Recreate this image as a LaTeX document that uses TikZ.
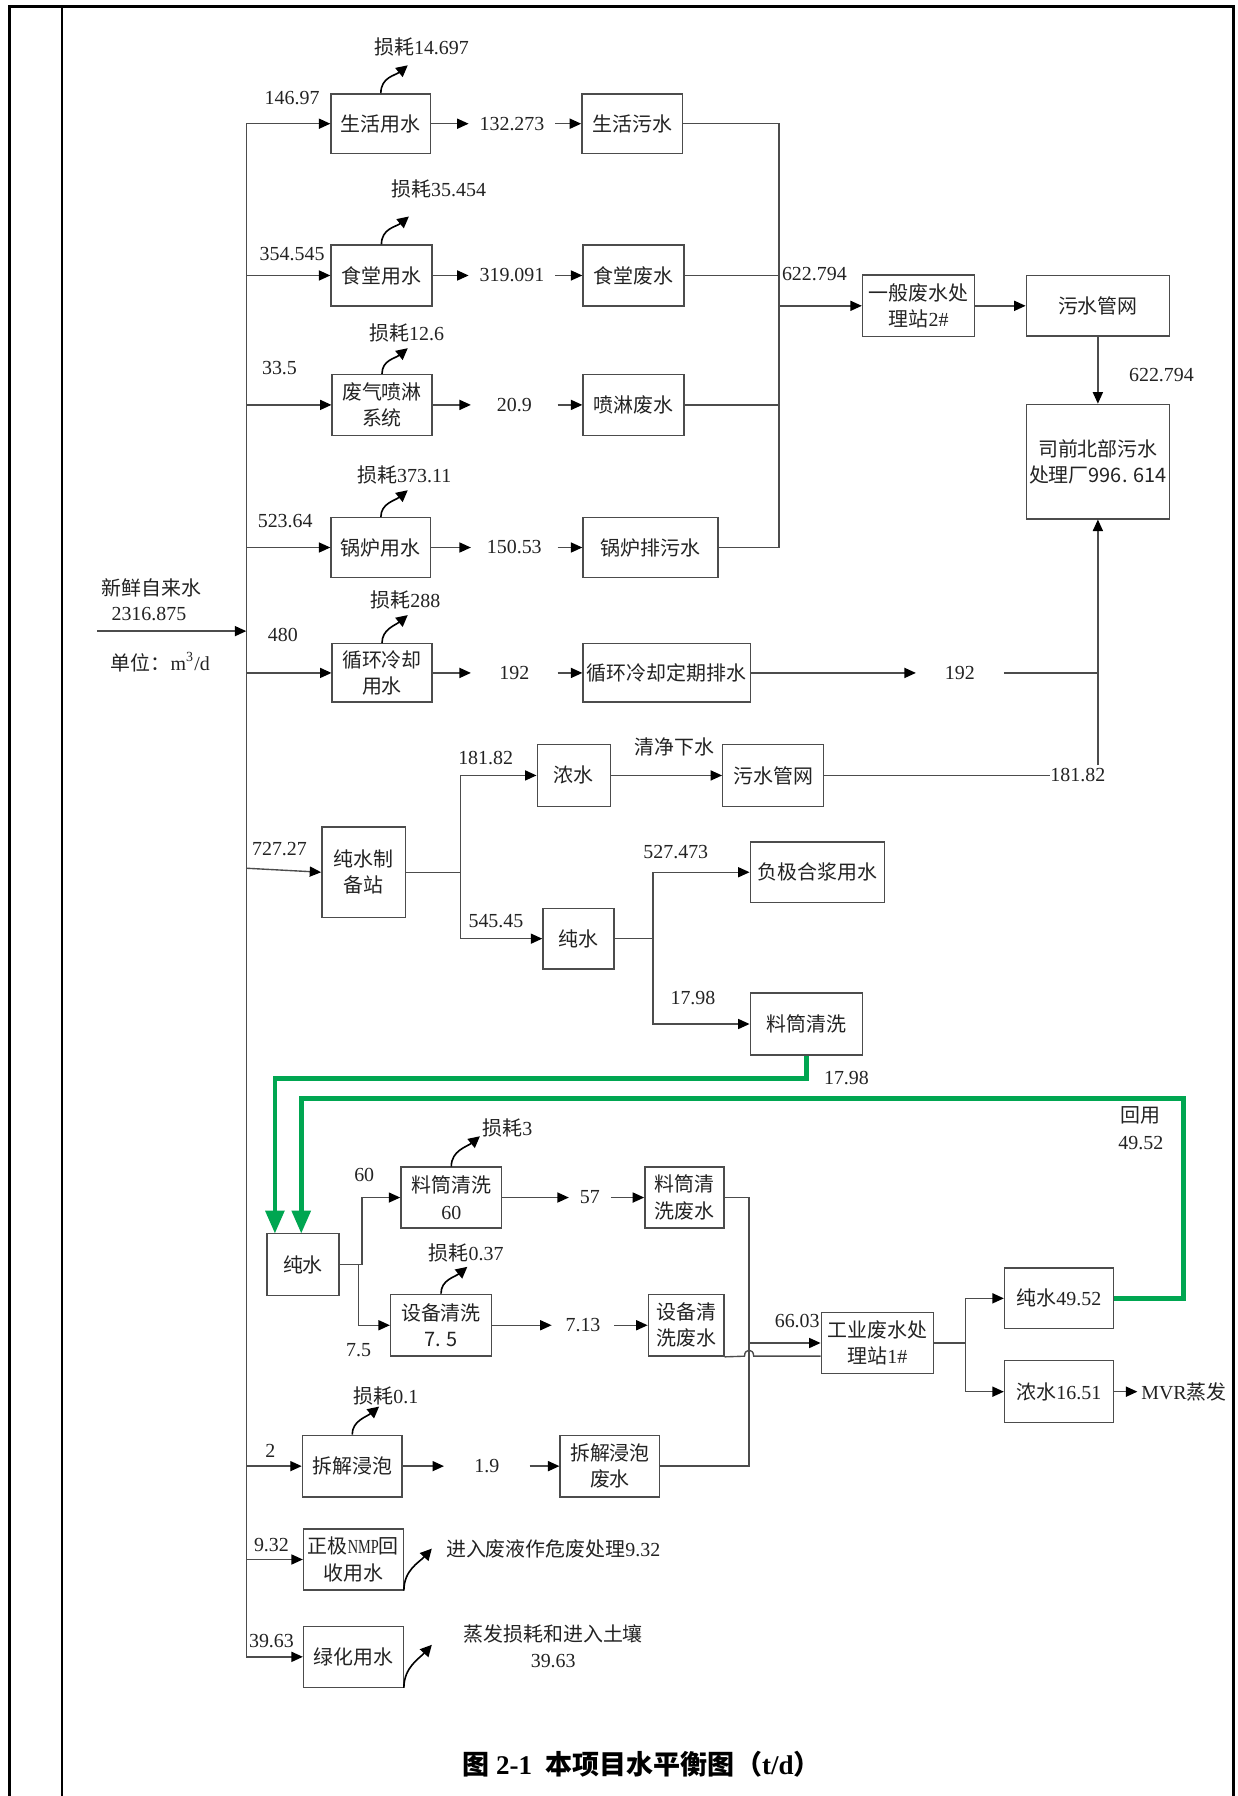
\documentclass[tikz,border=0pt]{standalone}
\usepackage{fontspec}
\setmainfont{Liberation Serif}
\newfontfamily\cjk{Noto Sans CJK SC}
\usetikzlibrary{arrows.meta}
\definecolor{gline}{RGB}{0,166,81}
\definecolor{ink}{RGB}{35,35,35}
\newcommand\zh[1]{{\cjk #1}}
\newcommand\fsz{\fontsize{8.7}{11.5}\selectfont}
\begin{document}
\begin{tikzpicture}[x=0.5pt,y=-0.5pt,
  cn/.style={draw=black!70,line width=0.6pt},
  ar/.style={cn,-{Triangle[length=5pt,width=4.4pt,color=black]}},
  bx/.style n args={2}{draw=black!70,line width=0.6pt,minimum width=#1*0.5pt,minimum height=#2*0.5pt,inner sep=0pt,align=center,font=\fsz,text=ink},
  nm/.style={inner sep=0pt,font=\fsz,text=ink,align=center},
  slot/.style={inner sep=0pt,minimum width=#1*0.5pt,font=\fsz,text=ink},
  gl/.style={draw=gline,line width=2pt,-{Triangle[length=10pt,width=8pt]}},
  sq/.style={draw=black,line width=0.7pt,-{Triangle[length=5pt,width=5pt]}}
]
\useasboundingbox (0,0) rectangle (1080,1568);
\fill[white] (0,0) rectangle (1080,1568);
% frame
\draw[line width=1.2pt] (8,1568) -- (8,6) -- (1077,6) -- (1077,1568);
\draw[line width=0.9pt] (54,6) -- (54,1568);

% ---------- rows 1-5 ----------
\node[bx={87}{52}] (n1) at (332.5,108) {\zh{生活用水}};
\node[slot=75] (l1) at (447,108) {132.273};
\node[bx={88}{52}] (w1) at (552,108) {\zh{生活污水}};
\node[nm] (s1t) at (368,41) {\zh{损耗}14.697};
\coordinate (s1) at (356,57);

\node[bx={88}{53}] (n2) at (333,240.5) {\zh{食堂用水}};
\node[slot=75] (l2) at (447,240.5) {319.091};
\node[bx={88}{53}] (w2) at (553,240.5) {\zh{食堂废水}};
\node[nm] (s2t) at (383,165) {\zh{损耗}35.454};
\coordinate (s2) at (357,189);

\node[bx={87}{53}] (n3) at (333.5,353.5) {\zh{废气喷淋}\\\zh{系统}};
\node[slot=75] (l3) at (449,353.5) {20.9};
\node[bx={88}{53}] (w3) at (553,353.5) {\zh{喷淋废水}};
\node[nm] (s3t) at (355,291) {\zh{损耗}12.6};
\coordinate (s3) at (356,304);

\node[bx={87}{52}] (n4) at (332.5,478) {\zh{锅炉用水}};
\node[slot=75] (l4) at (449,478) {150.53};
\node[bx={118}{52}] (w4) at (568,478) {\zh{锅炉排污水}};
\node[nm] (s4t) at (353,415) {\zh{损耗}373.11};
\coordinate (s4) at (356,428);

\node[bx={87}{51}] (n5) at (333.5,587.5) {\zh{循环冷却}\\\zh{用水}};
\node[slot=75] (l5) at (449,587.5) {192};
\node[bx={146}{51}] (w5) at (582,587.5) {\zh{循环冷却定期排水}};
\node[slot=76] (l5b) at (838,587.5) {192};
\node[nm] (s5t) at (354,524) {\zh{损耗}288};
\coordinate (s5) at (356,537);

\node[bx={98}{54}] (st2) at (802,267) {\zh{一般废水处}\\\zh{理站}2\#};
\node[bx={125}{53}] (p1) at (958.5,267) {\zh{污水管网}};
\node[bx={125}{100}] (pl) at (958.5,403) {\zh{司前北部污水}\\\zh{处理厂996. 614}};
\node[nm] at (711,239) {622.794};
\node[nm] at (1014,327) {622.794};

% inflow labels
\node[nm] at (255,86) {146.97};
\node[nm] at (255,222) {354.545};
\node[nm] at (244,321) {33.5};
\node[nm] at (249,455) {523.64};
\node[nm] at (247,554) {480};
\node[nm] at (244,741) {727.27};
\node[nm] at (236,1267) {2};
\node[nm] at (237,1349) {9.32};
\node[nm] at (237,1433) {39.63};

% fresh water
\node[nm] at (132,513) {\zh{新鲜自来水}};
\node[nm] at (130,536) {2316.875};
\node[nm] at (140,578) {\zh{单位：}m\textsuperscript{3}/d};

% ---------- row 6 ----------
\node[bx={73}{79}] (ro) at (317.5,761.5) {\zh{纯水制}\\\zh{备站}};
\node[bx={64}{54}] (cc) at (501,677) {\zh{浓水}};
\node[bx={88}{54}] (p2) at (675,677) {\zh{污水管网}};
\node[nm] (l6) at (941,677) {181.82};
\node[bx={62}{53}] (pu) at (505,819.5) {\zh{纯水}};
\node[bx={117}{53}] (ng) at (713.5,761.5) {\zh{负极合浆用水}};
\node[bx={98}{54}] (wa1) at (704,894) {\zh{料筒清洗}};
\node[nm] at (424,662) {181.82};
\node[nm] at (589,652) {\zh{清净下水}};
\node[nm] at (433,804) {545.45};
\node[nm] at (590,744) {527.473};
\node[nm] at (605,871) {17.98};
\node[nm] at (739,941) {17.98};
\node[nm] at (996,985) {\zh{回用}\\49.52};

% ---------- bottom ----------
\node[bx={63}{54}] (pw) at (264.5,1104) {\zh{纯水}};
\node[bx={88}{53}] (wa2) at (394,1045.5) {\zh{料筒清洗}\\60};
\node[slot=36] (l7) at (515,1045.5) {57};
\node[bx={69}{53}] (ww2) at (597.5,1045.5) {\zh{料筒清}\\\zh{洗废水}};
\node[bx={88}{54}] (eq) at (385,1157) {\zh{设备清洗}\\\zh{7. 5}};
\node[slot=54] (l8) at (509,1157) {7.13};
\node[bx={66}{54}] (weq) at (599,1157) {\zh{设备清}\\\zh{洗废水}};
\node[bx={98}{53}] (ind) at (766,1172.5) {\zh{工业废水处}\\\zh{理站}1\#};
\node[bx={95}{53}] (pw2) at (924.5,1133.5) {\zh{纯水}49.52};
\node[bx={95}{54}] (cw) at (924.5,1215) {\zh{浓水}16.51};
\node[nm,anchor=west,inner sep=1.5pt] (mvr) at (993,1215) {MVR\zh{蒸发}};
\node[bx={87}{54}] (dis) at (307.5,1280) {\zh{拆解浸泡}};
\node[slot=74] (l9) at (425,1280) {1.9};
\node[bx={87}{54}] (wdis) at (532.5,1280) {\zh{拆解浸泡}\\\zh{废水}};
\node[bx={87}{53}] (nmp) at (308.5,1361.5) {\zh{正极}\scalebox{0.72}[1]{NMP}\zh{回}\\\zh{收用水}};
\node[nm] at (483,1352) {\zh{进入废液作危废处理}9.32};
\node[bx={87}{53}] (gh) at (308.5,1446.5) {\zh{绿化用水}};
\node[nm] at (483,1437) {\zh{蒸发损耗和进入土壤}\\39.63};
\node[nm] at (318,1026) {60};
\node[nm] at (313,1179) {7.5};
\node[nm] at (696,1153) {66.03};
\node[nm] at (443,985) {\zh{损耗}3};
\node[nm] at (407,1094) {\zh{损耗}0.37};
\node[nm] at (337,1219) {\zh{损耗}0.1};
\coordinate (s6) at (419,992);
\coordinate (s7) at (408,1106);
\coordinate (s8) at (331,1228);
\coordinate (s9) at (377,1352);
\coordinate (s10) at (377,1436);

% title
\node[font=\fontsize{11.8}{14}\selectfont\bfseries] at (560,1540)
  {\zh{图} 2-1\hspace{6pt}\zh{本项目水平衡图（}t/d\zh{）}};

% ---------- connectors ----------
\coordinate (T) at (215,0);
\draw[cn] (n1.west -| T) -- (gh.west -| T);
\foreach \b in {n1,n2,n3,n4,n5,dis,nmp,gh}
  \draw[ar] (\b.west -| T) -- (\b.west);
\coordinate (t6) at (215,758);
\draw[ar] (t6) -- (ro.west);
\coordinate (fw) at (85,551);
\draw[ar] (fw) -- (fw -| T);

\draw[ar] (n1) -- (l1); \draw[ar] (l1) -- (w1);
\draw[ar] (n2) -- (l2); \draw[ar] (l2) -- (w2);
\draw[ar] (n3) -- (l3); \draw[ar] (l3) -- (w3);
\draw[ar] (n4) -- (l4); \draw[ar] (l4) -- (w4);
\draw[ar] (n5) -- (l5); \draw[ar] (l5) -- (w5);
\draw[ar] (w5) -- (l5b);
\draw[cn] (l5b.east) -- (pl.south |- l5b.east);

\coordinate (J) at (680,0);
\draw[cn] (w1.east) -| (J |- w4.east) -- (w4.east);
\draw[cn] (w2.east) -- (J |- w2.east);
\draw[cn] (w3.east) -- (J |- w3.east);
\draw[ar] (J |- st2.west) -- (st2.west);
\draw[ar] (st2) -- (p1);
\draw[ar] (p1) -- (pl);
\coordinate (v6) at (958.5,668);
\draw[ar] (v6) -- (pl.south);

% row 6
\coordinate (sp1) at (402,761.5);
\draw[cn] (ro.east) -- (sp1);
\draw[ar] (sp1) |- (cc.west);
\draw[ar] (sp1) |- (pu.west);
\draw[ar] (cc) -- (p2);
\draw[cn] (p2.east) -- (l6.west);
\coordinate (sp2) at (570,819.5);
\draw[cn] (pu.east) -- (sp2);
\draw[ar] (sp2) |- (ng.west);
\draw[ar] (sp2) |- (wa1.west);

% green recycle lines
\coordinate (ga) at (240,1077);
\coordinate (gb) at (263,1077);
\coordinate (g1) at (1033,959);
\draw[gl] (wa1.south) -- ++(0,20) -| (ga);
\draw[gl] (pw2.east) -| (g1) -| (gb);

% bottom
\coordinate (sp3) at (316,1104);
\coordinate (sp3b) at (313,1104);
\draw[cn] (pw.east) -- (sp3);
\draw[ar] (sp3) |- (wa2.west);
\draw[ar] (sp3b) |- (eq.west);
\draw[ar] (wa2) -- (l7); \draw[ar] (l7) -- (ww2);
\draw[ar] (eq) -- (l8); \draw[ar] (l8) -- (weq);
\draw[ar] (dis) -- (l9); \draw[ar] (l9) -- (wdis);
\coordinate (cx) at (654,0);
\draw[cn] (ww2.east) -| (cx |- wdis.east) -- (wdis.east);
\draw[ar] (cx |- ind.west) -- (ind.west);
\coordinate (hp1) at (650,1184);
\coordinate (hp2) at (658,1184);
\draw[cn] (weq.south east) -- (hp1) .. controls +(0,-7) and +(0,-7) .. (hp2) -- (ind.west |- hp2);
\coordinate (sp4) at (843,1172.5);
\draw[cn] (ind.east) -- (sp4);
\draw[ar] (sp4) |- (pw2.west);
\draw[ar] (sp4) |- (cw.west);
\draw[ar] (cw) -- (mvr);

% loss squiggles
\draw[sq] (n1.north) .. controls +(0,-14) and +(-11,9) .. (s1);
\draw[sq] (n2.north) .. controls +(0,-14) and +(-11,9) .. (s2);
\draw[sq] (n3.north) .. controls +(0,-12) and +(-11,9) .. (s3);
\draw[sq] (n4.north) .. controls +(0,-12) and +(-11,9) .. (s4);
\draw[sq] (n5.north) .. controls +(0,-12) and +(-11,9) .. (s5);
\draw[sq] (wa2.north) .. controls +(0,-14) and +(-11,9) .. (s6);
\draw[sq] (eq.north) .. controls +(0,-12) and +(-11,9) .. (s7);
\draw[sq] (dis.north) .. controls +(0,-12) and +(-11,9) .. (s8);
\draw[sq] (nmp.south east) .. controls +(0,-18) and +(-11,12) .. (s9);
\draw[sq] (gh.south east) .. controls +(0,-18) and +(-11,12) .. (s10);
\end{tikzpicture}
\end{document}
